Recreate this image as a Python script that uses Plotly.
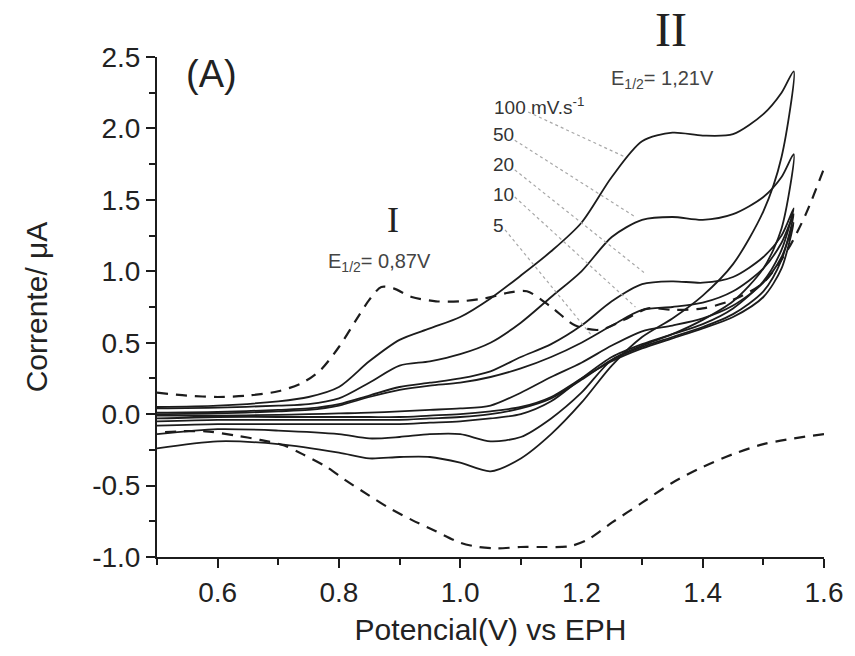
import plotly.graph_objects as go

# Cyclic voltammograms: anodic (forward) and cathodic (reverse) branches
scan_rates = ["100", "50", "20", "10", "5"]

E_fwd = [0.50, 0.60, 0.70, 0.75, 0.80, 0.85, 0.90, 0.95, 1.00, 1.05, 1.10,
         1.15, 1.20, 1.25, 1.30, 1.35, 1.40, 1.45, 1.50, 1.53, 1.55]
E_rev = [1.55, 1.53, 1.50, 1.45, 1.40, 1.35, 1.30, 1.25, 1.20, 1.15, 1.10,
         1.05, 1.00, 0.95, 0.90, 0.85, 0.80, 0.70, 0.60, 0.50]

I_fwd_100 = [0.05, 0.06, 0.09, 0.12, 0.19, 0.37, 0.52, 0.60, 0.68, 0.81, 0.97,
             1.14, 1.34, 1.66, 1.91, 1.97, 1.95, 1.96, 2.10, 2.25, 2.40]
I_rev_100 = [2.40, 1.80, 1.42, 1.05, 0.83, 0.67, 0.54, 0.34, 0.08, -0.14, -0.31,
             -0.40, -0.34, -0.30, -0.30, -0.31, -0.27, -0.21, -0.19, -0.24]

I_fwd_50 = [0.04, 0.045, 0.06, 0.07, 0.11, 0.22, 0.34, 0.37, 0.42, 0.50, 0.64,
            0.82, 1.00, 1.24, 1.36, 1.38, 1.36, 1.40, 1.52, 1.66, 1.82]
I_rev_50 = [1.82, 1.30, 1.02, 0.79, 0.66, 0.56, 0.48, 0.38, 0.15, -0.03, -0.16,
            -0.19, -0.14, -0.14, -0.16, -0.17, -0.14, -0.115, -0.105, -0.14]

I_fwd_20 = [0.01, 0.015, 0.03, 0.04, 0.07, 0.13, 0.19, 0.22, 0.25, 0.30, 0.40,
            0.49, 0.62, 0.79, 0.91, 0.93, 0.92, 0.96, 1.10, 1.25, 1.44]
I_rev_20 = [1.44, 1.15, 0.93, 0.74, 0.63, 0.56, 0.49, 0.40, 0.25, 0.09, 0.00,
            -0.03, -0.05, -0.06, -0.07, -0.07, -0.07, -0.07, -0.07, -0.08]

I_fwd_10 = [0.00, 0.005, 0.02, 0.03, 0.06, 0.12, 0.17, 0.20, 0.22, 0.26, 0.32,
            0.40, 0.50, 0.62, 0.73, 0.75, 0.78, 0.86, 1.02, 1.20, 1.40]
I_rev_10 = [1.40, 1.08, 0.86, 0.70, 0.61, 0.54, 0.47, 0.38, 0.24, 0.11, 0.04,
            0.00, -0.02, -0.03, -0.04, -0.04, -0.04, -0.04, -0.04, -0.05]

I_fwd_5 = [-0.01, -0.01, -0.005, 0.00, 0.005, 0.01, 0.02, 0.03, 0.04, 0.06, 0.15,
           0.26, 0.36, 0.48, 0.58, 0.62, 0.67, 0.76, 0.92, 1.10, 1.34]
I_rev_5 = [1.34, 1.02, 0.82, 0.68, 0.60, 0.53, 0.46, 0.37, 0.25, 0.12, 0.05,
           0.02, 0.00, -0.01, -0.02, -0.02, -0.02, -0.02, -0.02, -0.03]

# Dashed voltammogram (forward and reverse branches drawn separately)
E_dash_fwd = [0.50, 0.55, 0.60, 0.65, 0.70, 0.74, 0.77, 0.80, 0.83, 0.85, 0.87,
              0.89, 0.92, 0.96, 1.00, 1.04, 1.08, 1.11, 1.15, 1.19, 1.23, 1.27,
              1.31, 1.35, 1.40, 1.45, 1.50, 1.54, 1.57, 1.60]
I_dash_fwd = [0.15, 0.13, 0.12, 0.13, 0.16, 0.22, 0.31, 0.47, 0.67, 0.80, 0.89,
              0.88, 0.82, 0.79, 0.79, 0.81, 0.85, 0.86, 0.75, 0.62, 0.59, 0.66,
              0.74, 0.73, 0.74, 0.80, 0.92, 1.15, 1.40, 1.72]
E_dash_rev = [1.60, 1.55, 1.50, 1.45, 1.40, 1.35, 1.30, 1.25, 1.21, 1.18, 1.14,
              1.10, 1.06, 1.03, 1.00, 0.96, 0.92, 0.88, 0.85, 0.81, 0.78, 0.74,
              0.71, 0.67, 0.63, 0.58, 0.54, 0.50]
I_dash_rev = [-0.14, -0.17, -0.21, -0.28, -0.37, -0.48, -0.62, -0.76, -0.88, -0.925,
              -0.93, -0.93, -0.94, -0.93, -0.90, -0.82, -0.74, -0.65, -0.57, -0.46,
              -0.37, -0.28, -0.22, -0.18, -0.15, -0.12, -0.12, -0.13]

x_ticks = [0.6, 0.8, 1.0, 1.2, 1.4, 1.6]
x_tick_labels = ["0.6", "0.8", "1.0", "1.2", "1.4", "1.6"]
y_ticks = [-1.0, -0.5, 0.0, 0.5, 1.0, 1.5, 2.0, 2.5]
y_tick_labels = ["-1.0", "-0.5", "0.0", "0.5", "1.0", "1.5", "2.0", "2.5"]

# Scan-rate labels with leader lines: (text, label x, label y, line start, line end)
rate_labels = [
    ("100 mV.s<sup>-1</sup>", 1.052, 2.16, (1.112, 2.115), (1.272, 1.80)),
    ("50", 1.050, 1.96, (1.090, 1.917), (1.289, 1.38)),
    ("20", 1.050, 1.75, (1.090, 1.71), (1.305, 0.985)),
    ("10", 1.050, 1.54, (1.090, 1.52), (1.289, 0.75)),
    ("5", 1.050, 1.32, (1.074, 1.29), (1.215, 0.56)),
]

curves = {
    "100": (I_fwd_100, I_rev_100),
    "50": (I_fwd_50, I_rev_50),
    "20": (I_fwd_20, I_rev_20),
    "10": (I_fwd_10, I_rev_10),
    "5": (I_fwd_5, I_rev_5),
}

INK = "#1c1c1c"
SANS = "Liberation Sans, Arial, sans-serif"
SERIF = "Liberation Serif, Times New Roman, serif"

fig = go.Figure()

fig.add_trace(go.Scatter(
    x=E_dash_fwd + [None] + E_dash_rev,
    y=I_dash_fwd + [None] + I_dash_rev,
    mode="lines", connectgaps=False,
    line=dict(color=INK, width=2.2, dash="11px,8px", shape="spline", smoothing=0.8),
    showlegend=False, hoverinfo="skip"))

for rate in scan_rates:
    i_f, i_r = curves[rate]
    fig.add_trace(go.Scatter(
        x=E_fwd + E_rev[1:], y=i_f + i_r[1:],
        mode="lines", name=rate + " mV/s",
        line=dict(color=INK, width=1.8, shape="spline", smoothing=0.8),
        showlegend=False))

for text, lx, ly, p0, p1 in rate_labels:
    fig.add_shape(type="line", x0=p0[0], y0=p0[1], x1=p1[0], y1=p1[1],
                  xref="x", yref="y",
                  line=dict(color="#a8a8a8", width=1.2, dash="dot"))
    fig.add_annotation(x=lx, y=ly, text=text, showarrow=False, xanchor="left",
                       yanchor="middle", font=dict(family=SANS, size=19, color="#333"))

fig.add_annotation(x=0.59, y=2.38, text="(A)", showarrow=False,
                   font=dict(family=SANS, size=38, color="#222"))
fig.add_annotation(x=0.889, y=1.36, text="I", showarrow=False,
                   font=dict(family=SERIF, size=36, color="#222"))
fig.add_annotation(x=0.867, y=1.06, text="E<sub>1/2</sub>= 0,87V", showarrow=False,
                   font=dict(family=SANS, size=20, color="#444"))
# "II" sits above the top of the current axis, so it is placed in paper units
fig.add_annotation(x=1.347, y=1.055, xref="x", yref="paper", text="II",
                   showarrow=False, yanchor="middle",
                   font=dict(family=SERIF, size=48, color="#222"))
fig.add_annotation(x=1.333, y=2.34, text="E<sub>1/2</sub>= 1,21V", showarrow=False,
                   font=dict(family=SANS, size=20, color="#444"))

axis_common = dict(
    showline=True, linecolor=INK, linewidth=2, mirror=False,
    ticks="outside", ticklen=9, tickwidth=2, tickcolor=INK,
    showgrid=False, zeroline=False,
    tickfont=dict(family=SANS, size=28, color="#222"),
    title_font=dict(family=SANS, size=30, color="#222"),
)

fig.update_xaxes(
    range=[0.5, 1.6], tickmode="array", tickvals=x_ticks, ticktext=x_tick_labels,
    minor=dict(ticks="outside", ticklen=6, tickwidth=2, tickcolor=INK, dtick=0.1, tick0=0.5),
    title_text="Potencial(V) vs EPH", title_standoff=12, **axis_common)
fig.update_yaxes(
    range=[-1.0, 2.5], tickmode="array", tickvals=y_ticks, ticktext=y_tick_labels,
    minor=dict(ticks="outside", ticklen=6, tickwidth=2, tickcolor=INK, dtick=0.25, tick0=0),
    title_text="Corrente/ \u03bcA", title_standoff=36, **axis_common)

fig.update_layout(
    width=855, height=656,
    margin=dict(l=157, r=24, t=57, b=99),
    paper_bgcolor="white", plot_bgcolor="white",
    showlegend=False,
)

fig.write_html("out.html")
